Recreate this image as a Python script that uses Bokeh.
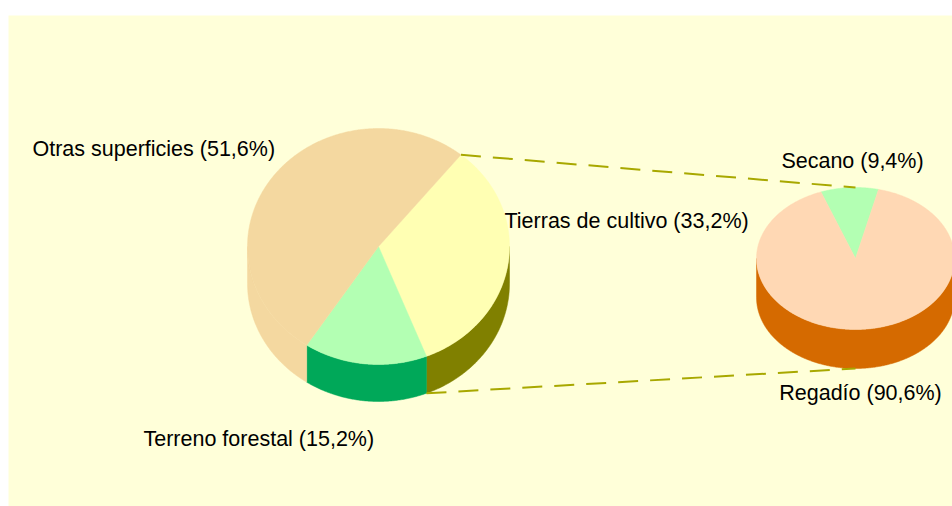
import numpy as np
from bokeh.plotting import figure
from bokeh.models import Range1d
from bokeh.embed import file_html
from bokeh.resources import INLINE
from bokeh.core.properties import value

# ---- data ----
main_labels = ["Tierras de cultivo", "Terreno forestal", "Otras superficies"]
main_values = [33.2, 15.2, 51.6]
sub_labels = ["Secano", "Regadío"]
sub_values = [9.4, 90.6]

# ---- styles / layout ----
main_top = ["#FFFFB3", "#B3FFB3", "#F4D8A0"]
main_side = ["#808000", "#00A859", "#F4D8A0"]
sub_top = ["#B3FFB3", "#FFD8B4"]
sub_side = ["#00A859", "#D56A00"]

main_geo = dict(cx=378, cy=246, rx=131, ry=118, depth=37, start=51.0)
sub_geo = dict(cx=855, cy=258, rx=99, ry=71, depth=39, start=110.4)

main_label_pos = [(504, 220, "left"), (143, 438, "left"), (32, 148, "left")]
sub_label_pos = [(852, 160, "center"), (860, 392, "center")]


def fmt(name, v):
    return f"{name} ({v:.1f}%)".replace(".", ",")


def arc(g, a0, a1, n=None, dy=0.0):
    if n is None:
        n = max(8, int(abs(a1 - a0) * 2))
    t = np.radians(np.linspace(a0, a1, n))
    return g["cx"] + g["rx"] * np.cos(t), g["cy"] - g["ry"] * np.sin(t) + dy


def slice_angles(values, start):
    total = sum(values)
    out = []
    a = start
    for v in values:
        span = v / total * 360.0
        out.append((a - span, a))
        a -= span
    return out


def front_parts(a0, a1):
    parts = []
    for k in range(-3, 3):
        lo, hi = -180 + 360 * k, 360 * k
        s, e = max(a0, lo), min(a1, hi)
        if e > s:
            parts.append((s, e))
    return parts


W, H = 952, 506
p = figure(width=W, height=H, x_range=Range1d(8, 952), y_range=Range1d(506, 15),
           output_backend="svg", toolbar_location=None,
           x_axis_location=None, y_axis_location=None,
           min_border_top=15, min_border_left=8, min_border_right=0, min_border_bottom=0)
p.background_fill_color = "#FFFFD9"
p.border_fill_color = "white"
p.outline_line_color = None
p.grid.visible = False


def draw_pie(g, values, tops, sides):
    angs = slice_angles(values, g["start"])
    for (a0, a1), c in zip(angs, sides):
        for s, e in front_parts(a0, a1):
            x1, y1 = arc(g, s, e)
            x2, y2 = arc(g, e, s, dy=g["depth"])
            p.patch(np.concatenate([x1, x2]), np.concatenate([y1, y2]),
                    fill_color=c, line_color=c, line_width=0.5)
    for (a0, a1), c in zip(angs, tops):
        x, y = arc(g, a0, a1)
        p.patch(np.concatenate([[g["cx"]], x]), np.concatenate([[g["cy"]], y]),
                fill_color=c, line_color=c, line_width=0.5)
    return angs


angs_main = draw_pie(main_geo, main_values, main_top, main_side)
angs_sub = draw_pie(sub_geo, sub_values, sub_top, sub_side)

# connector lines from the split slice (Tierras de cultivo)
g, h = main_geo, sub_geo
a_top = np.radians(angs_main[0][1])
a_bot = np.radians(angs_main[0][0])
x0 = g["cx"] + g["rx"] * np.cos(a_top)
y0 = g["cy"] - g["ry"] * np.sin(a_top)
x1 = g["cx"] + g["rx"] * np.cos(a_bot)
y1 = g["cy"] - g["ry"] * np.sin(a_bot) + g["depth"]
p.line([x0, h["cx"]], [y0, h["cy"] - h["ry"]], line_color="#A8A800", line_width=2, line_dash="20 12")
p.line([x1, h["cx"]], [y1, h["cy"] + h["ry"] + h["depth"]], line_color="#A8A800", line_width=2, line_dash="20 12")

# labels
for (name, v), (lx, ly, al) in zip(zip(main_labels, main_values), main_label_pos):
    p.text(x=[lx], y=[ly], text=[fmt(name, v)], text_font=value("Liberation Sans"),
           text_font_size="21.5px", text_color="#000000", text_align=al, text_baseline="middle")
for (name, v), (lx, ly, al) in zip(zip(sub_labels, sub_values), sub_label_pos):
    p.text(x=[lx], y=[ly], text=[fmt(name, v)], text_font=value("Liberation Sans"),
           text_font_size="21.5px", text_color="#000000", text_align=al, text_baseline="middle")

open("out.html", "w").write(file_html(p, INLINE))
